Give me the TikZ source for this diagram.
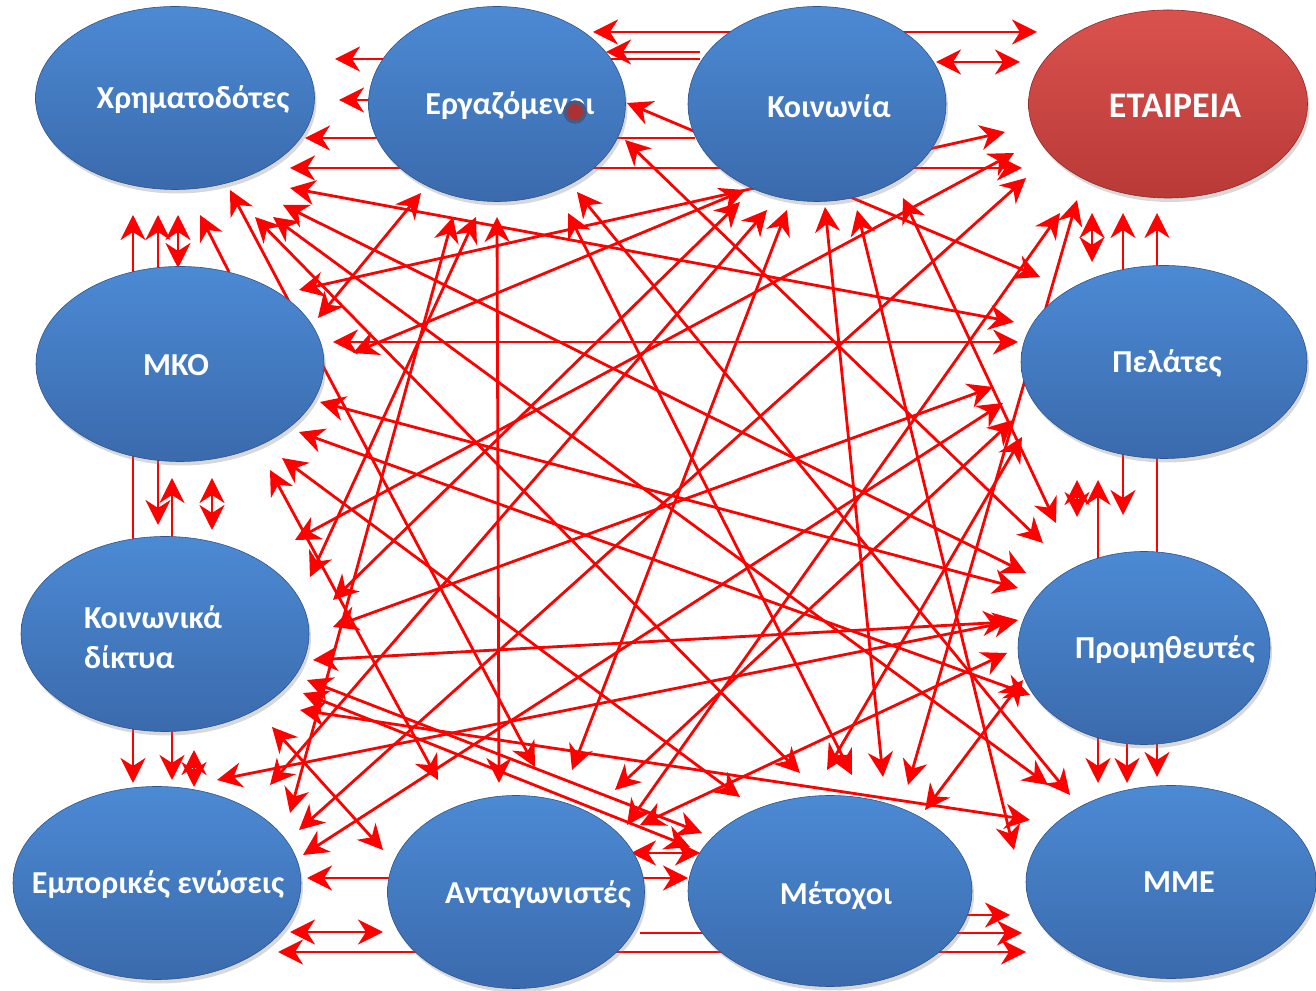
\documentclass[tikz,border=0pt]{standalone}
\usepackage{fontspec}
\setmainfont{Carlito}
\usetikzlibrary{arrows.meta,shapes.geometric,shadows}
\pgfdeclarelayer{bg}
\pgfsetlayers{bg,main}

\definecolor{bluetop}{RGB}{76,138,212}
\definecolor{bluebot}{RGB}{58,106,172}
\definecolor{blueedge}{RGB}{46,86,142}
\definecolor{redtop}{RGB}{218,82,78}
\definecolor{redbot}{RGB}{184,58,55}
\definecolor{rededge}{RGB}{140,42,40}
\definecolor{linkred}{RGB}{255,0,0}
\definecolor{dotred}{RGB}{170,50,50}
\definecolor{dotring}{RGB}{70,90,135}

\tikzset{
  blob/.style={ellipse, draw=blueedge, line width=0.6pt, top color=bluetop, bottom color=bluebot,
    inner sep=0pt, drop shadow={opacity=0.3, shadow xshift=2pt, shadow yshift=-4pt}},
  redblob/.style={blob, draw=rededge, top color=redtop, bottom color=redbot},
  lbl/.style={text=white, font=\bfseries\fontsize{32}{38}\selectfont, inner sep=0pt},
  link/.style={draw=linkred, line width=2.8pt, ->},
  dlink/.style={link, <->},
}

\begin{document}
\begin{tikzpicture}[x=1pt,y=1pt,>={Stealth[length=25pt,width=25pt,inset=8pt]}]
\useasboundingbox (0,0) rectangle (1316,990);

%Top row
\node[blob, minimum width=279pt, minimum height=183pt] (chr) at (175,892) {};
\node[blob, minimum width=257pt, minimum height=195pt] (erg) at (497,886) {};
\node[blob, minimum width=258pt, minimum height=195pt] (koi) at (817,886) {};
\node[redblob, minimum width=279pt, minimum height=188pt] (eta) at (1168,886) {};

%Left and right columns
\node[blob, minimum width=288pt, minimum height=195pt] (mko) at (180,626) {};
\node[blob, minimum width=286pt, minimum height=193pt] (pel) at (1164,628) {};
\node[blob, minimum width=288pt, minimum height=195pt] (kd) at (165,356) {};
\node[blob, minimum width=252pt, minimum height=193pt] (pro) at (1144,342) {};

%Bottom row
\node[blob, minimum width=288pt, minimum height=193pt] (emp) at (157,107) {};
\node[blob, minimum width=257pt, minimum height=193pt] (ant) at (516,98) {};
\node[blob, minimum width=284pt, minimum height=191pt] (met) at (830,99) {};
\node[blob, minimum width=290pt, minimum height=193pt] (mme) at (1171,108) {};

%Labels
\node[lbl] (chr-l) at ([shift={(18,-2)}]chr.center) {Χρηματοδότες};
\node[lbl] (erg-l) at ([shift={(13,-2)}]erg.center) {Εργαζόμενοι};
\node[lbl] (koi-l) at ([shift={(12,-2)}]koi.center) {Κοινωνία};
\node[lbl, font=\bfseries\fontsize{36}{40}\selectfont] (eta-l) at ([shift={(7,-2)}]eta.center) {ΕΤΑΙΡΕΙΑ};
\node[lbl] (mko-l) at ([shift={(-4,-1)}]mko.center) {ΜΚΟ};
\node[lbl] (pel-l) at ([shift={(3,-2)}]pel.center) {Πελάτες};
\node[lbl, align=left, font=\bfseries\fontsize{32}{40}\selectfont] (kd-l) at ([shift={(-12,-3)}]kd.center) {Κοινωνικά\\δίκτυα};
\node[lbl] (pro-l) at ([shift={(21,-2)}]pro.center) {Προμηθευτές};
\node[lbl] (emp-l) at ([shift={(1,-2)}]emp.center) {Εμπορικές ενώσεις};
\node[lbl] (ant-l) at ([shift={(22,-3)}]ant.center) {Ανταγωνιστές};
\node[lbl] (met-l) at ([shift={(6,-5)}]met.center) {Μέτοχοι};
\node[lbl] (mme-l) at ([shift={(8,0)}]mme.center) {ΜΜΕ};

%Dot over the label
\draw[fill=dotred, draw=dotring, line width=3.5pt] ([shift={(78,-8)}]erg.center) circle (10pt);

\begin{pgfonlayer}{bg}
\fill[white] (0,0) rectangle (1316,990);

%Left column
\draw[dlink] ([shift={(-42,-117)}]chr.center) -- ([shift={(-24,100)}]emp.center);
\draw[dlink] ([shift={(-17,-117)}]chr.center) -- ([shift={(-7,109)}]kd.center);
\draw[dlink] ([shift={(-8,-114)}]mko.center) -- ([shift={(15,103)}]emp.center);
\draw[dlink] ([shift={(3,-117)}]chr.center) -- ([shift={(-2,96)}]mko.center);
\draw[dlink] ([shift={(32,-114)}]mko.center) -- ([shift={(47,104)}]kd.center);
\draw[dlink] ([shift={(29,-116)}]kd.center) -- ([shift={(37,96)}]emp.center);
\draw[link] ([shift={(49,92)}]mko.center) -- ([shift={(25,-117)}]chr.center);

%Right column
\draw[dlink] ([shift={(-76,-109)}]eta.center) -- ([shift={(-72,100)}]pel.center);
\draw[dlink] ([shift={(-45,-109)}]eta.center) -- ([shift={(-21,133)}]pro.center);
\draw[dlink] ([shift={(-11,-109)}]eta.center) -- ([shift={(-14,105)}]mme.center);
\draw[dlink] ([shift={(-87,-118)}]pel.center) -- ([shift={(-67,131)}]pro.center);
\draw[dlink] ([shift={(-66,-118)}]pel.center) -- ([shift={(-73,99)}]mme.center);
\draw[link] ([shift={(-17,-96)}]pro.center) -- ([shift={(-44,99)}]mme.center);

%Top row
\draw[dlink] ([shift={(96,72)}]erg.center) -- ([shift={(-131,72)}]eta.center);
\draw[link] ([shift={(-117,52)}]koi.center) -- ([shift={(109,52)}]erg.center);
\draw[link] ([shift={(-117,45)}]koi.center) -- ([shift={(160,39)}]chr.center);
\draw[dlink] ([shift={(119,42)}]koi.center) -- ([shift={(-148,42)}]eta.center);
\draw[link] ([shift={(-117,4)}]erg.center) -- ([shift={(164,-2)}]chr.center);
\draw[link] ([shift={(-122,-34)}]koi.center) -- ([shift={(130,-40)}]chr.center);
\draw[dlink] ([shift={(115,-70)}]chr.center) -- ([shift={(-146,-64)}]eta.center);

%Bottom row
\draw[dlink] ([shift={(150,5)}]emp.center) -- ([shift={(-142,13)}]met.center);
\draw[dlink] ([shift={(133,-49)}]emp.center) -- ([shift={(-133,-40)}]ant.center);
\draw[dlink] ([shift={(121,-69)}]emp.center) -- ([shift={(-145,-70)}]mme.center);
\draw[dlink] ([shift={(115,39)}]ant.center) -- ([shift={(-130,38)}]met.center);
\draw[link] ([shift={(124,-41)}]ant.center) -- ([shift={(-149,-51)}]mme.center);
\draw[link] ([shift={(135,-24)}]met.center) -- ([shift={(-161,-33)}]mme.center);

%Cross links
\draw[dlink] ([shift={(115,-90)}]chr.center) -- ([shift={(-150,40)}]pel.center);
\draw[dlink] ([shift={(108,-107)}]chr.center) -- ([shift={(-118,75)}]pro.center);
\draw[dlink] ([shift={(98,-119)}]chr.center) -- ([shift={(-123,97)}]mme.center);
\draw[dlink] ([shift={(80,-119)}]chr.center) -- ([shift={(-30,118)}]met.center);
\draw[dlink] ([shift={(55,-92)}]chr.center) -- ([shift={(19,125)}]ant.center);
\draw[dlink] ([shift={(138,46)}]mko.center) -- ([shift={(-76,-89)}]erg.center);
\draw[dlink] ([shift={(119,74)}]mko.center) -- ([shift={(-163,-28)}]eta.center);
\draw[dlink] ([shift={(153,22)}]mko.center) -- ([shift={(-146,20)}]pel.center);
\draw[dlink] ([shift={(-72,-86)}]koi.center) -- ([shift={(173,11)}]mko.center);
\draw[dlink] ([shift={(140,-38)}]mko.center) -- ([shift={(-126,60)}]pro.center);
\draw[dlink] ([shift={(90,-106)}]mko.center) -- ([shift={(-78,112)}]ant.center);
\draw[dlink] ([shift={(119,-68)}]mko.center) -- ([shift={(-114,-47)}]pro.center);
\draw[dlink] ([shift={(102,-94)}]mko.center) -- ([shift={(-90,94)}]met.center);
\draw[dlink] ([shift={(168,34)}]kd.center) -- ([shift={(-77,-98)}]koi.center);
\draw[dlink] ([shift={(-44,-113)}]erg.center) -- ([shift={(133,70)}]emp.center);
\draw[dlink] ([shift={(-21,-113)}]erg.center) -- ([shift={(145,57)}]kd.center);
\draw[dlink] ([shift={(0,-113)}]erg.center) -- ([shift={(-17,109)}]ant.center);
\draw[dlink] ([shift={(71,-109)}]erg.center) -- ([shift={(22,116)}]met.center);
\draw[dlink] ([shift={(80,-88)}]erg.center) -- ([shift={(-101,87)}]mme.center);
\draw[dlink] ([shift={(130,1)}]erg.center) -- ([shift={(-124,85)}]pel.center);
\draw[dlink] ([shift={(128,-36)}]erg.center) -- ([shift={(-101,105)}]pro.center);
\draw[dlink] ([shift={(86,-94)}]koi.center) -- ([shift={(-88,125)}]pro.center);
\draw[dlink] ([shift={(-50,-106)}]koi.center) -- ([shift={(113,98)}]emp.center);
\draw[dlink] ([shift={(-30,-106)}]koi.center) -- ([shift={(56,122)}]ant.center);
\draw[dlink] ([shift={(8,-103)}]koi.center) -- ([shift={(53,114)}]met.center);
\draw[dlink] ([shift={(40,-106)}]koi.center) -- ([shift={(-157,32)}]mme.center);
\draw[dlink] ([shift={(130,94)}]kd.center) -- ([shift={(-154,-49)}]eta.center);
\draw[dlink] ([shift={(-142,-74)}]eta.center) -- ([shift={(142,53)}]emp.center);
\draw[dlink] ([shift={(-108,-109)}]eta.center) -- ([shift={(111,67)}]ant.center);
\draw[dlink] ([shift={(-91,-96)}]eta.center) -- ([shift={(78,106)}]met.center);
\draw[dlink] ([shift={(-171,-25)}]pel.center) -- ([shift={(168,7)}]kd.center);
\draw[dlink] ([shift={(-161,-41)}]pel.center) -- ([shift={(146,28)}]emp.center);
\draw[dlink] ([shift={(-151,-58)}]pel.center) -- ([shift={(99,102)}]ant.center);
\draw[dlink] ([shift={(-142,-75)}]pel.center) -- ([shift={(-3,121)}]met.center);
\draw[dlink] ([shift={(148,-26)}]kd.center) -- ([shift={(-136,26)}]pro.center);
\draw[dlink] ([shift={(107,-93)}]kd.center) -- ([shift={(-133,42)}]ant.center);
\draw[dlink] ([shift={(142,-46)}]kd.center) -- ([shift={(-128,58)}]met.center);
\draw[dlink] ([shift={(138,-59)}]kd.center) -- ([shift={(-140,44)}]met.center);
\draw[dlink] ([shift={(135,-76)}]kd.center) -- ([shift={(-141,62)}]mme.center);
\draw[dlink] ([shift={(124,67)}]ant.center) -- ([shift={(-137,-5)}]pro.center);
\draw[dlink] ([shift={(95,81)}]met.center) -- ([shift={(-121,-32)}]pro.center);
\draw[dlink] ([shift={(60,103)}]emp.center) -- ([shift={(-126,28)}]pro.center);
\end{pgfonlayer}

\end{tikzpicture}
\end{document}
